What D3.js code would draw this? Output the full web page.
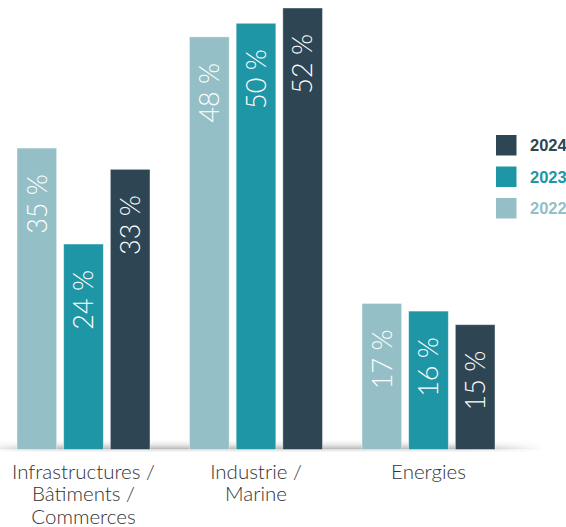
<!DOCTYPE html>
<html lang="fr">
<head>
  <meta charset="utf-8" />
  <script src="https://d3js.org/d3.v7.min.js"></script>
  <style>
    body { margin: 0; background: #fff; }
  </style>
</head>
<body>
  <script>
    var width = 566,
      height = 527;

    // data
    var categories = ["Infrastructures / Bâtiments / Commerces", "Industrie / Marine", "Energies"];
    var categoryLines = [["Infrastructures /", "Bâtiments /", "Commerces"], ["Industrie /", "Marine"], ["Energies"]];
    var years = ["2022", "2023", "2024"];
    var values2022 = [35.5, 48.6, 17.2];
    var values2023 = [24.2, 50.2, 16.3];
    var values2024 = [33, 52, 14.7];
    var labels2022 = ["35 %", "48 %", "17 %"];
    var labels2023 = ["24 %", "50 %", "16 %"];
    var labels2024 = ["33 %", "52 %", "15 %"];
    var legendOrder = ["2024", "2023", "2022"];

    var colors = { "2022": "#94bfc6", "2023": "#1f96a6", "2024": "#2e4554" };

    var rows = [];
    categories.forEach(function (c, i) {
      rows.push({ cat: c, year: "2022", value: values2022[i], label: labels2022[i] });
      rows.push({ cat: c, year: "2023", value: values2023[i], label: labels2023[i] });
      rows.push({ cat: c, year: "2024", value: values2024[i], label: labels2024[i] });
    });

    var baseline = 449.5;

    var svg = d3.select("body")
      .append("svg")
      .attr("width", width)
      .attr("height", height);

    var defs = svg.append("defs");
    var grad = defs.append("linearGradient")
      .attr("id", "shadowV").attr("x1", 0).attr("y1", 0).attr("x2", 0).attr("y2", 1);
    grad.append("stop").attr("offset", "0%").attr("stop-color", "#ffffff").attr("stop-opacity", 0);
    grad.append("stop").attr("offset", "100%").attr("stop-color", "#a8a8a8").attr("stop-opacity", 0.9);

    var gradH = defs.append("linearGradient")
      .attr("id", "fadeH").attr("x1", 0).attr("y1", 0).attr("x2", 1).attr("y2", 0);
    gradH.append("stop").attr("offset", "0%").attr("stop-color", "#fff").attr("stop-opacity", 0.3);
    gradH.append("stop").attr("offset", "8%").attr("stop-color", "#fff").attr("stop-opacity", 1);
    gradH.append("stop").attr("offset", "85%").attr("stop-color", "#fff").attr("stop-opacity", 1);
    gradH.append("stop").attr("offset", "100%").attr("stop-color", "#fff").attr("stop-opacity", 0);
    defs.append("mask").attr("id", "fadeMask")
      .append("rect").attr("x", 0).attr("y", 420).attr("width", 545).attr("height", 40)
      .attr("fill", "url(#fadeH)");

    var x0 = d3.scaleBand()
      .domain(categories)
      .range([17, 495])
      .paddingInner(0.229)
      .paddingOuter(0);

    var x1 = d3.scaleBand()
      .domain(years)
      .range([0, x0.bandwidth()])
      .paddingInner(0.15);

    var y = d3.scaleLinear()
      .domain([0, 52])
      .range([baseline, 8]);

    // baseline shadow
    var shadow = svg.append("g").attr("mask", "url(#fadeMask)");
    shadow.append("rect")
      .attr("x", 0).attr("y", baseline - 11)
      .attr("width", 545).attr("height", 11)
      .attr("fill", "url(#shadowV)");
    shadow.append("rect")
      .attr("x", 0).attr("y", baseline)
      .attr("width", 545).attr("height", 2)
      .attr("fill", "#ececec");

    var bars = svg.append("g");

    bars.selectAll("rect")
      .data(rows)
      .enter().append("rect")
      .attr("x", function (d) { return x0(d.cat) + x1(d.year); })
      .attr("y", function (d) { return y(d.value); })
      .attr("width", x1.bandwidth())
      .attr("height", function (d) { return baseline - y(d.value); })
      .attr("fill", function (d) { return colors[d.year]; })
      .attr("stroke", "#ffffff")
      .attr("stroke-opacity", 0.5)
      .attr("stroke-width", 0.8);

    bars.selectAll("text")
      .data(rows)
      .enter().append("text")
      .attr("transform", function (d) {
        var cx = x0(d.cat) + x1(d.year) + x1.bandwidth() / 2;
        return "translate(" + cx + "," + (y(d.value) + 26) + ") rotate(-90)";
      })
      .attr("dy", "0.36em")
      .attr("text-anchor", "end")
      .attr("fill", "#ffffff")
      .style("font-family", "Lato, 'Open Sans', sans-serif")
      .style("font-weight", 300)
      .style("font-size", "27px")
      .text(function (d) { return d.label; });

    // category labels
    var catG = svg.append("g");
    categories.forEach(function (c, i) {
      var t = catG.append("text")
        .attr("x", x0(c) + x0.bandwidth() / 2)
        .attr("y", 478.5)
        .attr("text-anchor", "middle")
        .attr("fill", "#333333")
        .style("font-family", "Lato, 'Open Sans', sans-serif")
        .style("font-weight", 300)
        .style("font-size", "20.5px");
      categoryLines[i].forEach(function (line, j) {
        t.append("tspan")
          .attr("x", x0(c) + x0.bandwidth() / 2)
          .attr("dy", j === 0 ? 0 : 22.5)
          .text(line);
      });
    });

    // legend
    var legend = svg.append("g").attr("transform", "translate(496,135)");
    var ly = d3.scaleBand().domain(legendOrder).range([0, 94.5]).paddingInner(0);
    var item = legend.selectAll("g")
      .data(legendOrder)
      .enter().append("g")
      .attr("transform", function (d) { return "translate(0," + ly(d) + ")"; });
    item.append("rect")
      .attr("width", 20.5)
      .attr("height", 20.5)
      .attr("fill", function (d) { return colors[d]; });
    item.append("text")
      .attr("x", 34)
      .attr("y", 16)
      .attr("fill", function (d) { return colors[d]; })
      .style("font-family", "'Liberation Sans', Arial, sans-serif")
      .style("font-weight", "bold")
      .style("font-size", "16.5px")
      .text(function (d) { return d; });
  </script>
</body>
</html>
